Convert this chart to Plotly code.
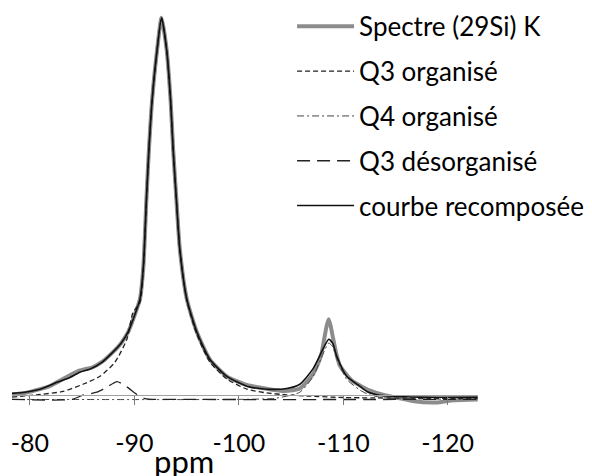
import plotly.graph_objects as go

# ---- data (ppm, intensity normalised so that main peak = 100) ----
spec_ppm = [-78.28, -79.52, -80.96, -81.9, -82.58, -83.83, -84.6, -85.26, -85.93, -86.89, -87.94,
            -88.71, -89.38, -89.95, -90.53, -90.86, -91.15, -91.39, -91.7, -92.18, -92.6,
            -93.08, -93.46, -93.71, -94.02, -94.35, -95.02, -95.98, -97.22, -98.85, -100.77,
            -102.68, -104.4, -105.84, -107.08, -107.56, -107.9, -108.2, -108.4, -108.6,
            -108.8, -109.04, -109.35, -109.66, -110.3, -110.9, -111.58, -112.5, -113.97,
            -115.4, -116.8, -118.9, -120.6, -122.87]
spec_int = [0.4, 0.8, 1.8, 2.6, 3.6, 5.5, 6.6, 7.1, 7.5, 9.0, 11.6,
            13.9, 16.8, 20.8, 25.6, 34.3, 52.0, 65.2, 78.4, 91.7, 100.0,
            91.7, 78.4, 65.2, 52.0, 38.8, 25.6, 16.9, 9.7, 5.2, 2.9,
            1.9, 1.3, 2.0, 5.7, 8.4, 11.0, 15.5, 18.4, 20.3,
            18.4, 15.0, 11.0, 8.1, 5.7, 3.9, 2.8, 1.5, 0.2,
            -0.6, -1.4, -1.7, -1.1, -0.9]

q3org_ppm = [-78.28, -80.96, -83.16, -85.07, -86.7, -88.13, -89.28, -89.86, -90.53, -90.86,
             -91.15, -91.39, -91.7, -92.18, -92.6, -93.08, -93.46, -93.71, -94.02, -94.35,
             -95.02, -95.98, -97.22, -98.85, -100.77, -102.68, -104.59, -106.5, -110.0, -122.87]
q3org_int = [-0.3, 0.4, 1.2, 3.1, 5.2, 8.9, 15.0, 22.1, 24.7, 33.5,
             51.5, 65.0, 78.3, 91.7, 100.0, 91.7, 78.3, 65.0, 51.8, 38.5,
             25.2, 16.3, 9.0, 4.5, 1.8, 0.8, 0.3, 0.0, -0.4, -0.7]

q4org_ppm = [-78.28, -100.0, -103.5, -105.84, -107.08, -108.04, -108.61, -108.99, -109.38,
             -110.33, -111.58, -112.5, -114.0, -122.87]
q4org_int = [-0.9, -0.9, -0.6, 1.0, 5.0, 11.0, 14.0, 13.0, 9.8,
             4.4, 1.6, 0.3, -0.5, -0.9]

q3des_ppm = [-78.28, -84.0, -85.07, -86.4, -87.4, -88.33, -89.28, -90.24, -91.0, -95.0, -122.87]
q3des_int = [-0.9, -0.9, 0.2, 1.0, 2.4, 3.8, 2.4, 0.4, -0.7, -0.9, -0.9]

fit_ppm = [-78.28, -79.52, -80.96, -82.58, -83.83, -84.78, -85.74, -86.89, -87.94, -88.71,
           -89.38, -89.95, -90.53, -90.86, -91.15, -91.39, -91.7, -92.18, -92.6, -93.08,
           -93.46, -93.71, -94.02, -94.35, -95.02, -95.98, -97.22, -98.85, -100.77, -102.68,
           -104.59, -105.84, -107.08, -108.04, -108.61, -108.99, -109.38, -110.33, -111.58,
           -112.25, -113.49, -117.32, -122.87]
fit_int = [0.7, 1.0, 1.8, 3.6, 4.9, 6.3, 7.1, 8.9, 11.6, 13.9,
           16.8, 20.8, 25.6, 34.3, 52.0, 65.2, 78.4, 91.7, 100.0, 91.7,
           78.4, 65.2, 52.0, 38.8, 25.6, 16.9, 9.7, 5.2, 2.6, 1.8,
           2.0, 3.1, 7.1, 12.3, 15.0, 13.9, 10.5, 5.2, 2.6,
           1.2, 0.2, -0.3, -0.3]

tick_vals = [-80, -90, -100, -110, -120]
tick_text = ["-80", "-90", "-100", "-110", "-120"]

FONT = "Lato"

fig = go.Figure()

fig.add_trace(go.Scatter(x=spec_ppm, y=spec_int, mode="lines", name="Spectre (29Si) K",
                         legendgroup="a", line=dict(color="#8c8c8c", width=4, shape="spline",
                                                    smoothing=0.6)))
fig.add_trace(go.Scatter(x=q3org_ppm, y=q3org_int, mode="lines", name="Q3 organisé",
                         legendgroup="b", line=dict(color="#222222", width=1.3, dash="5px,3px",
                                                    shape="spline", smoothing=0.6)))
fig.add_trace(go.Scatter(x=q4org_ppm, y=q4org_int, mode="lines", name="Q4 organisé",
                         legendgroup="c", line=dict(color="#444444", width=1, dash="7px,3px,2px,3px",
                                                    shape="spline", smoothing=0.6)))
fig.add_trace(go.Scatter(x=q3des_ppm, y=q3des_int, mode="lines", name="Q3 désorganisé",
                         legendgroup="d", line=dict(color="#222222", width=1.3, dash="13px,7px",
                                                    shape="spline", smoothing=0.6)))
fig.add_trace(go.Scatter(x=fit_ppm, y=fit_int, mode="lines", name="courbe recomposée",
                         legendgroup="e", line=dict(color="#111111", width=1.6, shape="spline",
                                                    smoothing=0.6)))

fig.update_layout(
    width=592, height=476,
    margin=dict(l=12, r=114, t=0, b=56, autoexpand=False),
    paper_bgcolor="white", plot_bgcolor="white",
    font=dict(family=FONT, size=25, color="#000000"),
    xaxis=dict(range=[-78.28, -122.9], showgrid=False, zeroline=False,
               anchor="free", position=0.059,
               showline=True, linecolor="#a0a0a0", linewidth=1,
               tickmode="array", tickvals=tick_vals, ticktext=tick_text,
               ticks="outside", ticklen=9, tickcolor="#7a7a7a", tickwidth=1,
               tickfont=dict(family=FONT, size=25), ticklabelstandoff=17, automargin=False),
    yaxis=dict(range=[-6.35, 104.7], showgrid=False, showline=False, showticklabels=False,
               zeroline=False, ticks="", automargin=False),
    legend=dict(x=0.601, y=0.993, xanchor="left", yanchor="top", bgcolor="rgba(0,0,0,0)",
                font=dict(family=FONT, size=26), itemwidth=57, tracegroupgap=8,
                traceorder="grouped"),
    showlegend=True,
    annotations=[dict(text="ppm", xref="paper", yref="paper", x=0.369, y=-0.097,
                      xanchor="center", yanchor="middle", showarrow=False,
                      font=dict(family=FONT, size=31))],
)

fig.write_html("out.html", config={"displayModeBar": False},
               post_script="document.body.style.margin='0px';")
